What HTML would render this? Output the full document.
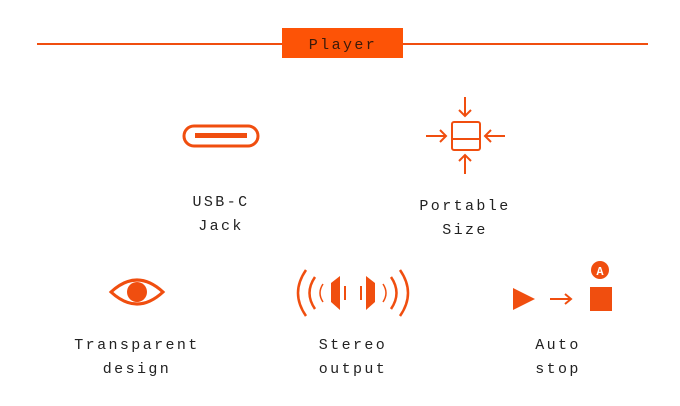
<!DOCTYPE html>
<html><head><style>
body{margin:0;background:#fff}
svg{display:block}
text{font-family:"Liberation Mono","DejaVu Sans Mono",monospace;font-size:15px;letter-spacing:2.4px;fill:#222;text-anchor:middle}
</style></head><body>
<svg width="680" height="406" viewBox="0 0 680 406">
<g stroke="#f04e0f" fill="none" stroke-width="2">
<line x1="37" y1="44" x2="283" y2="44"/><line x1="403" y1="44" x2="648" y2="44"/>
</g>
<rect x="282" y="28" width="121" height="30" fill="#fd5306"/>
<text x="343" y="49" style="fill:#3a1a0a">Player</text>

<!-- USB-C -->
<rect x="184" y="126" width="74" height="20" rx="10" fill="none" stroke="#f04e0f" stroke-width="3"/>
<rect x="195" y="133" width="52" height="5" fill="#f04e0f"/>
<text x="221" y="206">USB-C</text><text x="221" y="230">Jack</text>

<!-- Portable -->
<g stroke="#f04e0f" stroke-width="2" fill="none">
<rect x="452" y="122" width="28" height="28" rx="2"/><line x1="452" y1="139" x2="480" y2="139"/>
<line x1="465" y1="97" x2="465" y2="116"/><polyline points="459,110 465,116 471,110"/>
<line x1="465" y1="155" x2="465" y2="174"/><polyline points="459,161 465,155 471,161"/>
<line x1="426" y1="136" x2="446" y2="136"/><polyline points="440,130 446,136 440,142"/>
<line x1="485" y1="136" x2="505" y2="136"/><polyline points="491,130 485,136 491,142"/>
</g>
<text x="465" y="210">Portable</text><text x="465" y="234">Size</text>

<!-- Eye -->
<path d="M111,292 Q137,268 163,292 Q137,316 111,292 Z" fill="none" stroke="#f04e0f" stroke-width="3"/>
<circle cx="137" cy="292" r="10" fill="#f04e0f"/>
<text x="137" y="349">Transparent</text><text x="137" y="373">design</text>

<!-- Stereo -->
<g fill="#f04e0f">
<polygon points="331,283 340,276 340,310 331,302"/>
<rect x="344" y="286" width="2" height="14"/>
<polygon points="375,283 366,276 366,310 375,302"/>
<rect x="360" y="286" width="2" height="14"/>
</g>
<g fill="none" stroke="#f04e0f" stroke-width="2.5">
<path d="M306,270 Q290,293 306,316"/>
<path d="M315,277 Q304,293 315,309"/>
<path d="M323,284 Q317,293 323,302" stroke-width="1.5"/>
<path d="M400,270 Q416,293 400,316"/>
<path d="M391,277 Q402,293 391,309"/>
<path d="M383,284 Q389,293 383,302" stroke-width="1.5"/>
</g>
<text x="353" y="349">Stereo</text><text x="353" y="373">output</text>

<!-- Auto stop -->
<polygon points="513,288 535,299 513,310" fill="#f04e0f"/>
<line x1="550" y1="299" x2="570" y2="299" stroke="#f04e0f" stroke-width="2"/>
<polyline points="565,294 571,299 565,304" fill="none" stroke="#f04e0f" stroke-width="2"/>
<rect x="590" y="287" width="22" height="24" fill="#f04e0f"/>
<circle cx="600" cy="270" r="9" fill="#f04e0f"/>
<text x="600" y="275" style="fill:#fff;font-size:12px;letter-spacing:0;font-weight:bold">A</text>
<text x="558" y="349">Auto</text><text x="558" y="373">stop</text>
</svg>
</body></html>
